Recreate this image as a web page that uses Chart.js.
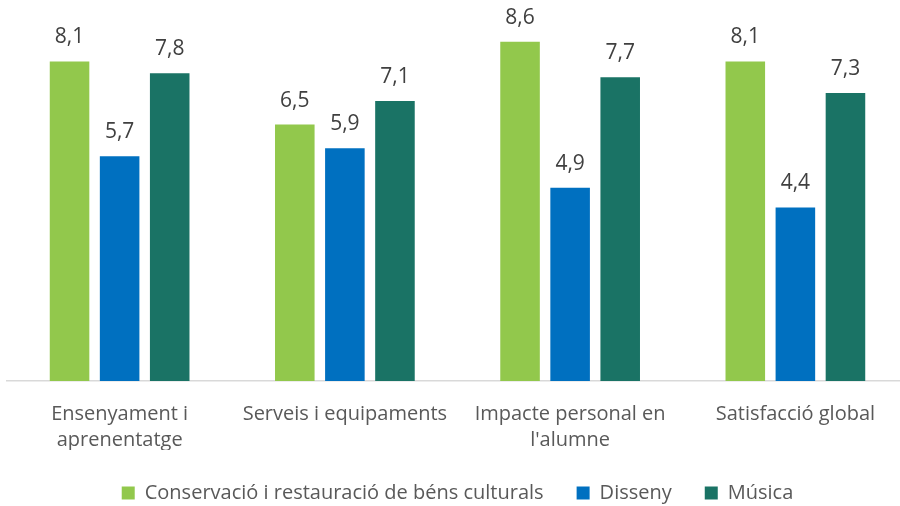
<!DOCTYPE html>
<html>
<head>
<meta charset="utf-8">
<script src="https://cdn.jsdelivr.net/npm/chart.js@4/dist/chart.umd.min.js"></script>
<style>
  html, body { margin: 0; padding: 0; background: #fff; }
  #wrap { width: 900px; height: 506px; overflow: hidden; }
</style>
</head>
<body>
<div id="wrap"><canvas id="barChart" width="908" height="506"></canvas></div>
<script>
const categories = [['Ensenyament i', 'aprenentatge'], 'Serveis i equipaments', ['Impacte personal en', "l'alumne"], 'Satisfacció global'];
const seriesNames = ['Conservació i restauració de béns culturals', 'Disseny', 'Música'];
const conservacio = [8.1, 6.5, 8.6, 8.1];
const disseny = [5.7, 5.9, 4.9, 4.4];
const musica = [7.8, 7.1, 7.7, 7.3];
const colors = ['#92C84C', '#0070C0', '#1A7365'];

const FONT = 'Open Sans';

// etiquetes de valor damunt de cada barra
const valueLabels = {
  id: 'valueLabels',
  afterDatasetsDraw(chart) {
    const ctx = chart.ctx;
    ctx.save();
    ctx.font = '21px "' + FONT + '"';
    ctx.fillStyle = '#404040';
    ctx.textAlign = 'center';
    ctx.textBaseline = 'middle';
    chart.data.datasets.forEach((ds, i) => {
      chart.getDatasetMeta(i).data.forEach((bar, j) => {
        ctx.fillText(ds.data[j].toFixed(1).replace('.', ','), bar.x, bar.y - 24);
      });
    });
    ctx.restore();
  }
};

const ctx = document.getElementById('barChart').getContext('2d');
new Chart(ctx, {
  type: 'bar',
  data: {
    labels: categories,
    datasets: [conservacio, disseny, musica].map((d, i) => ({
      label: seriesNames[i],
      data: d,
      backgroundColor: colors[i],
      categoryPercentage: 0.667,
      barPercentage: 0.79
    }))
  },
  options: {
    responsive: false,
    animation: false,
    layout: { padding: { left: 7, right: 0, top: 26, bottom: 0 } },
    plugins: {
      legend: {
        position: 'bottom',
        maxHeight: 56,
        labels: {
          boxWidth: 13,
          boxHeight: 13,
          padding: 33,
          color: '#595959',
          font: { family: FONT, size: 20 }
        }
      },
      tooltip: { enabled: false }
    },
    scales: {
      y: { display: false, min: 0, max: 9 },
      x: {
        afterFit(scale) { scale.height = 69; },
        grid: { display: false },
        border: { color: '#D9D9D9', width: 1.5 },
        ticks: {
          color: '#595959',
          padding: 12,
          font: { family: FONT, size: 20, lineHeight: 1.3 },
          maxRotation: 0
        }
      }
    }
  },
  plugins: [valueLabels]
});
</script>
</body>
</html>
